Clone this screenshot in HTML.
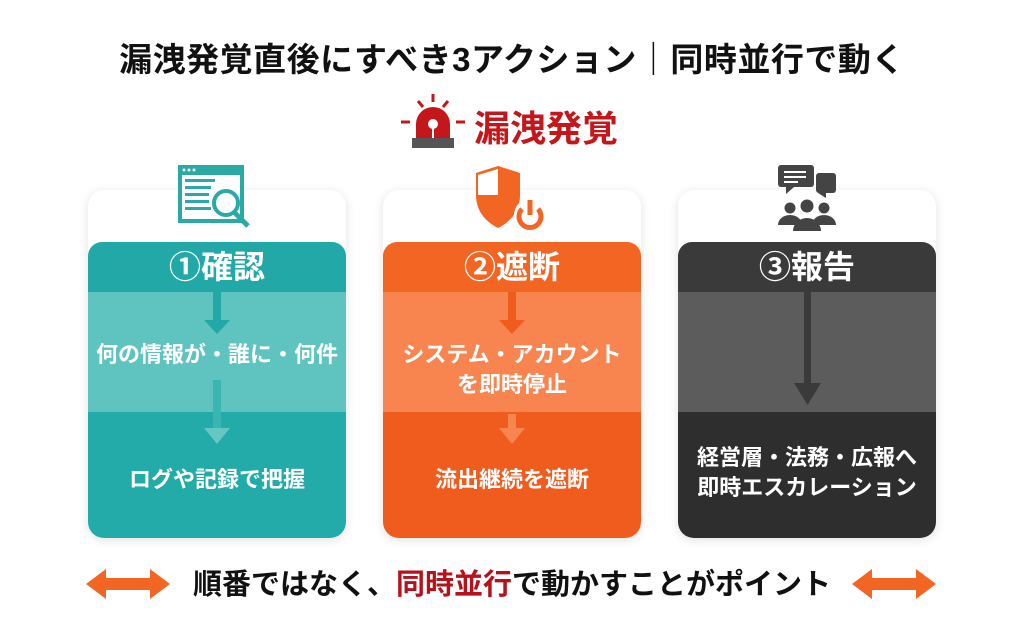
<!DOCTYPE html>
<html><head><meta charset="utf-8"><style>
*{margin:0;padding:0;box-sizing:border-box}
body{width:1024px;height:637px;background:#fff;position:relative;overflow:hidden;font-family:"Liberation Sans","Noto Sans CJK JP",sans-serif;font-weight:bold}
.abs{position:absolute}
.title{left:0;width:1024px;top:33px;text-align:center;font-size:33px;color:#111;letter-spacing:0.5px;white-space:nowrap}
.card{position:absolute;top:190px;width:258px;height:348px;border-radius:16px;background:#fff;box-shadow:0 2px 10px rgba(0,0,0,0.12);overflow:hidden}
.hd{position:absolute;top:52px;left:0;right:0;height:50px;color:#fff;font-size:32px;text-align:center;line-height:50px;border-radius:14px 14px 0 0}
.md{position:absolute;top:102px;left:0;right:0;height:120px}
.bt{position:absolute;top:222px;left:0;right:0;bottom:0;border-radius:0 0 14px 14px}
.t{position:absolute;left:-10px;right:-10px;text-align:center;color:#fff;font-size:22px;line-height:30px;white-space:nowrap}
.bot{top:561px;left:0;width:1024px;text-align:center;font-size:29px;color:#111;white-space:nowrap}
</style></head><body>
<div class="abs title">漏洩発覚直後にすべき3アクション｜同時並行で動く</div>
<svg class="abs" style="left:398px;top:92px" width="70" height="60" viewBox="0 0 70 60">
<g stroke="#c3171b" stroke-width="3"><line x1="35" y1="2" x2="35" y2="10"/><line x1="20" y1="9" x2="25" y2="15"/><line x1="50" y1="9" x2="45" y2="15"/><line x1="3" y1="30" x2="12" y2="30"/><line x1="58" y1="30" x2="67" y2="30"/></g>
<path d="M18 46 V32 a17 17 0 0 1 34 0 V46Z" fill="#c3171b"/>
<circle cx="35" cy="32" r="5" fill="#fff"/><rect x="34" y="34" width="2" height="12" fill="#fff"/>
<rect x="14" y="46" width="42" height="10" fill="#555"/></svg>
<div class="abs" style="left:474px;top:100px;font-size:36px;color:#c3171b">漏洩発覚</div>

<div class="card" style="left:88px">
 <div class="hd" style="background:#22a9a7">①確認</div>
 <div class="md" style="background:#5fc3bf"></div>
 <div class="bt" style="background:#23abaa"></div>
 <svg class="abs" style="left:0;top:102px" width="258" height="246"><rect x="125" y="0" width="8" height="30" fill="#22a9a7"/><polygon points="116,28 142,28 129,42" fill="#22a9a7"/><rect x="125" y="88" width="8" height="50" fill="#3bb5b2"/><polygon points="116,136 142,136 129,152" fill="#66c6c2"/></svg>
 <div class="t" style="top:150px">何の情報が・誰に・何件</div>
 <div class="t" style="top:275px">ログや記録で把握</div>
</div>
<svg class="abs" style="left:172px;top:163px" width="90" height="70"><rect x="6" y="2" width="66" height="58" fill="#2aa9a6"/><rect x="10" y="12" width="58" height="44" fill="#fff"/><g fill="#fff"><circle cx="12" cy="7" r="1.5"/><circle cx="17" cy="7" r="1.5"/><circle cx="22" cy="7" r="1.5"/></g><g fill="#2aa9a6"><rect x="13" y="16" width="30" height="3"/><rect x="13" y="23" width="26" height="3"/><rect x="13" y="30" width="24" height="3"/><rect x="13" y="37" width="24" height="3"/><rect x="13" y="44" width="26" height="3"/></g><circle cx="54" cy="40" r="12" fill="#fff" stroke="#2aa9a6" stroke-width="4"/><line x1="62" y1="49" x2="76" y2="63" stroke="#2aa9a6" stroke-width="5"/></svg>

<div class="card" style="left:383px">
 <div class="hd" style="background:#f26522">②遮断</div>
 <div class="md" style="background:#f8844f"></div>
 <div class="bt" style="background:#f05c1e"></div>
 <svg class="abs" style="left:0;top:102px" width="258" height="246"><rect x="125" y="0" width="8" height="30" fill="#f05c1e"/><polygon points="116,28 142,28 129,42" fill="#f05c1e"/><rect x="125" y="122" width="8" height="16" fill="#f8844f"/><polygon points="116,136 142,136 129,152" fill="#f8844f"/></svg>
 <div class="t" style="top:150px">システム・アカウント<br>を即時停止</div>
 <div class="t" style="top:275px">流出継続を遮断</div>
</div>
<svg class="abs" style="left:470px;top:165px" width="85" height="75"><path d="M6 8 L28 1 L50 8 V30 C50 48 38 58 28 63 C18 58 6 48 6 30Z" fill="#f26522"/><path d="M28 4 V30 H8 V10Z" fill="#fff"/><circle cx="60" cy="50" r="16" fill="#fff"/><path d="M52 44 a11 11 0 1 0 16 0" fill="none" stroke="#f26522" stroke-width="5"/><rect x="57.5" y="35" width="5" height="15" fill="#f26522"/></svg>

<div class="card" style="left:678px">
 <div class="hd" style="background:#3a3a3a">③報告</div>
 <div class="md" style="background:#5c5c5c"></div>
 <div class="bt" style="background:#2e2e2e"></div>
 <svg class="abs" style="left:0;top:100px" width="258" height="246"><rect x="126" y="0" width="7" height="95" fill="#3a3a3a"/><polygon points="116,93 143,93 129.5,115" fill="#3a3a3a"/></svg>
 <div class="t" style="top:253px">経営層・法務・広報へ<br>即時エスカレーション</div>
</div>
<svg class="abs" style="left:776px;top:163px" width="64" height="72"><rect x="2" y="2" width="36" height="22" rx="3" fill="#444"/><polygon points="10,24 18,24 10,31" fill="#444"/><g fill="#fff"><rect x="8" y="8" width="22" height="2"/><rect x="8" y="13" width="22" height="2"/><rect x="8" y="18" width="14" height="2"/></g><rect x="40" y="10" width="20" height="20" rx="3" fill="#444"/><polygon points="42,30 50,30 50,35" fill="#444"/><circle cx="14" cy="45" r="5.5" fill="#444"/><circle cx="48" cy="45" r="5.5" fill="#444"/><circle cx="31" cy="43" r="6.5" fill="#444"/><path d="M2 62 a12 10 0 0 1 24 0Z" fill="#444"/><path d="M36 62 a12 10 0 0 1 24 0Z" fill="#444"/><path d="M17 68 a14 13 0 0 1 28 0Z" fill="#444"/></svg>

<svg class="abs" style="left:86px;top:567px" width="84" height="34"><polygon points="0,17 20,2 20,11 64,11 64,2 84,17 64,32 64,23 20,23 20,32" fill="#f26522"/></svg>
<svg class="abs" style="left:852px;top:567px" width="84" height="34"><polygon points="0,17 20,2 20,11 64,11 64,2 84,17 64,32 64,23 20,23 20,32" fill="#f26522"/></svg>
<div class="abs bot">順番ではなく、<span style="color:#b5121b">同時並行</span>で動かすことがポイント</div>
</body></html>
